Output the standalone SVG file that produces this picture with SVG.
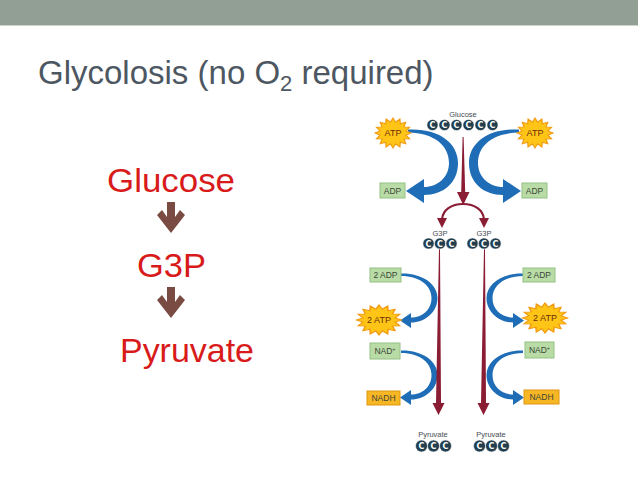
<svg xmlns="http://www.w3.org/2000/svg" width="638" height="479" viewBox="0 0 638 479">
<style>
.title{font-family:"Liberation Sans",Arial,sans-serif;font-size:33px;fill:#4d5762}
.big{font-family:"Liberation Sans",Arial,sans-serif;font-size:33px;fill:#d81a1a}
.lbl{font-family:"Liberation Sans",Arial,sans-serif;font-size:7.5px;fill:#464c52;text-anchor:middle}
.box{font-family:"Liberation Sans",Arial,sans-serif;font-size:8.5px;fill:#3b4639;text-anchor:middle}
.atp{font-family:"Liberation Sans",Arial,sans-serif;font-size:9px;fill:#6a2c08;text-anchor:middle}
.green{fill:#b9dca6;stroke:#92c184;stroke-width:1}
.gold{fill:#f7b623;stroke:#de9612;stroke-width:1}
.sun{fill:#ffc516;stroke:#f29a12;stroke-width:1;vector-effect:non-scaling-stroke}
.c{fill:#233f4f;stroke:#ffffff;stroke-width:0.6}
.ct{font-family:"DejaVu Sans",sans-serif;font-size:8px;font-weight:bold;fill:#ffffff;text-anchor:middle}
.blue{fill:#1e6db6}
.red{fill:#8a1c34}
.redl{fill:none;stroke:#8a1c34;stroke-width:2.2}
.brown{fill:#7a4b42}
</style>
<defs>
<polygon id="star" points="15,0 10.79,2.15 13.86,5.74 9.15,6.11 10.61,10.61 6.11,9.15 5.74,13.86 2.15,10.79 0,15 -2.15,10.79 -5.74,13.86 -6.11,9.15 -10.61,10.61 -9.15,6.11 -13.86,5.74 -10.79,2.15 -15,0 -10.79,-2.15 -13.86,-5.74 -9.15,-6.11 -10.61,-10.61 -6.11,-9.15 -5.74,-13.86 -2.15,-10.79 0,-15 2.15,-10.79 5.74,-13.86 6.11,-9.15 10.61,-10.61 9.15,-6.11 13.86,-5.74 10.79,-2.15"/>
<path id="bigArrow" d="M408,129.5 C439,128 458,143 458,163 C458,183 443,195 424,195 L424,203 L406,191 L424,179 L424,187 C438,187 449,177 449,163 C449,146 435,133 408,132.5 Z"/>
<path id="smallArrow" d="M401,273.5 C422,273 437.5,284 437.5,298 C437.5,312 425,322.5 411,322.5 L411,328 L400,320.5 L411,313 L411,317.5 C422,317.5 431.5,310 431.5,298 C431.5,286 420,276 401,276 Z"/>
</defs>

<rect x="0" y="0" width="638" height="25" fill="#919f94"/>
<line x1="0" y1="25.5" x2="638" y2="25.5" stroke="#cdd3cd" stroke-width="1"/>

<text class="title" x="38" y="84">Glycolosis (no O<tspan font-size="22" dy="7">2</tspan><tspan dy="-7"> required)</tspan></text>

<g id="left-summary">
<g id="n-glucose"><text class="big" x="107" y="192" textLength="128" lengthAdjust="spacingAndGlyphs">Glucose</text></g>
<g id="n-g3p"><text class="big" x="137" y="277" textLength="69" lengthAdjust="spacingAndGlyphs">G3P</text></g>
<g id="n-pyruvate"><text class="big" x="120" y="362" textLength="134" lengthAdjust="spacingAndGlyphs">Pyruvate</text></g>
</g>

<g id="connectors">
<polygon class="brown" points="167,202 175,202 175,217 180,210 185,215 171,233 157,215 162,210 167,217"/>
<polygon class="brown" points="167,287 175,287 175,302 180,295 185,300 171,318 157,300 162,295 167,302"/>

<use href="#bigArrow" class="blue"/>
<use href="#bigArrow" class="blue" transform="matrix(-1,0,0,1,927,0)"/>
<use href="#smallArrow" class="blue"/>
<use href="#smallArrow" class="blue" transform="translate(0,77)"/>
<use href="#smallArrow" class="blue" transform="matrix(-1,0,0,1,924,0)"/>
<use href="#smallArrow" class="blue" transform="matrix(-1,0,0,1,924,77)"/>

<polygon class="red" points="462.6,137 463.6,137 465.2,192 469.5,192 463.2,205 457,192 461.2,192"/>
<path class="redl" d="M463,204 C451,204 443,210 442,219"/>
<polygon class="red" points="437,218 447,218 442,228"/>
<path class="redl" d="M463,204 C475,204 483,210 484,219"/>
<polygon class="red" points="479,218 489,218 484,228"/>
<polygon class="red" points="439,249 440,249 441,403 444.5,403 438.5,415 432.5,403 436,403"/>
<polygon class="red" points="484,249 485,249 486,403 489.5,403 483.5,415 477.5,403 481,403"/>
</g>

<g id="m-glucose">
<text class="lbl" x="463" y="117">Glucose</text>
<circle class="c" cx="432.5" cy="125" r="5.6"/><text class="ct" x="432.5" y="128">C</text>
<circle class="c" cx="444.5" cy="125" r="5.6"/><text class="ct" x="444.5" y="128">C</text>
<circle class="c" cx="456.5" cy="125" r="5.6"/><text class="ct" x="456.5" y="128">C</text>
<circle class="c" cx="468.5" cy="125" r="5.6"/><text class="ct" x="468.5" y="128">C</text>
<circle class="c" cx="480.5" cy="125" r="5.6"/><text class="ct" x="480.5" y="128">C</text>
<circle class="c" cx="492.5" cy="125" r="5.6"/><text class="ct" x="492.5" y="128">C</text>
</g>

<g id="m-g3p-left">
<text class="lbl" x="440" y="236">G3P</text>
<circle class="c" cx="428.5" cy="243.5" r="5.6"/><text class="ct" x="428.5" y="246.5">C</text>
<circle class="c" cx="440" cy="243.5" r="5.6"/><text class="ct" x="440" y="246.5">C</text>
<circle class="c" cx="451.5" cy="243.5" r="5.6"/><text class="ct" x="451.5" y="246.5">C</text>
</g>
<g id="m-g3p-right">
<text class="lbl" x="484" y="236">G3P</text>
<circle class="c" cx="472.5" cy="243.5" r="5.6"/><text class="ct" x="472.5" y="246.5">C</text>
<circle class="c" cx="484" cy="243.5" r="5.6"/><text class="ct" x="484" y="246.5">C</text>
<circle class="c" cx="495.5" cy="243.5" r="5.6"/><text class="ct" x="495.5" y="246.5">C</text>
</g>

<g id="m-pyruvate-left">
<text class="lbl" x="433" y="437">Pyruvate</text>
<circle class="c" cx="421.5" cy="446" r="6"/><text class="ct" x="421.5" y="449">C</text>
<circle class="c" cx="433.5" cy="446" r="6"/><text class="ct" x="433.5" y="449">C</text>
<circle class="c" cx="445.5" cy="446" r="6"/><text class="ct" x="445.5" y="449">C</text>
</g>
<g id="m-pyruvate-right">
<text class="lbl" x="491" y="437">Pyruvate</text>
<circle class="c" cx="479.5" cy="446" r="6"/><text class="ct" x="479.5" y="449">C</text>
<circle class="c" cx="491.5" cy="446" r="6"/><text class="ct" x="491.5" y="449">C</text>
<circle class="c" cx="503.5" cy="446" r="6"/><text class="ct" x="503.5" y="449">C</text>
</g>

<g id="atp-top-left"><use href="#star" class="sun" transform="translate(393,133) scale(1.2,1)"/><text class="atp" x="393" y="136">ATP</text></g>
<g id="atp-top-right"><use href="#star" class="sun" transform="translate(535,133) scale(1.2,1)"/><text class="atp" x="535" y="136">ATP</text></g>
<g id="adp-left"><rect class="green" x="380" y="183" width="25" height="15"/><text class="box" x="392.5" y="193.5">ADP</text></g>
<g id="adp-right"><rect class="green" x="522" y="183" width="25" height="15"/><text class="box" x="534.5" y="193.5">ADP</text></g>

<g id="adp2-left"><rect class="green" x="370" y="268" width="31" height="14"/><text class="box" x="385.5" y="278">2 ADP</text></g>
<g id="adp2-right"><rect class="green" x="523" y="268" width="32" height="14"/><text class="box" x="539" y="278">2 ADP</text></g>
<g id="atp2-left"><use href="#star" class="sun" transform="translate(379,320) scale(1.5,1)"/><text class="atp" x="379" y="323">2 ATP</text></g>
<g id="atp2-right"><use href="#star" class="sun" transform="translate(545,318) scale(1.5,1)"/><text class="atp" x="545" y="321">2 ATP</text></g>
<g id="nad-left"><rect class="green" x="370" y="343" width="30" height="16"/><text class="box" x="385" y="354">NAD<tspan font-size="5.5" dy="-3">+</tspan></text></g>
<g id="nad-right"><rect class="green" x="525" y="342" width="29" height="16"/><text class="box" x="539.5" y="353">NAD<tspan font-size="5.5" dy="-3">+</tspan></text></g>
<g id="nadh-left"><rect class="gold" x="367" y="391" width="33" height="14"/><text class="box" x="383.5" y="401">NADH</text></g>
<g id="nadh-right"><rect class="gold" x="524" y="390" width="35" height="14"/><text class="box" x="541.5" y="400">NADH</text></g>
</svg>
